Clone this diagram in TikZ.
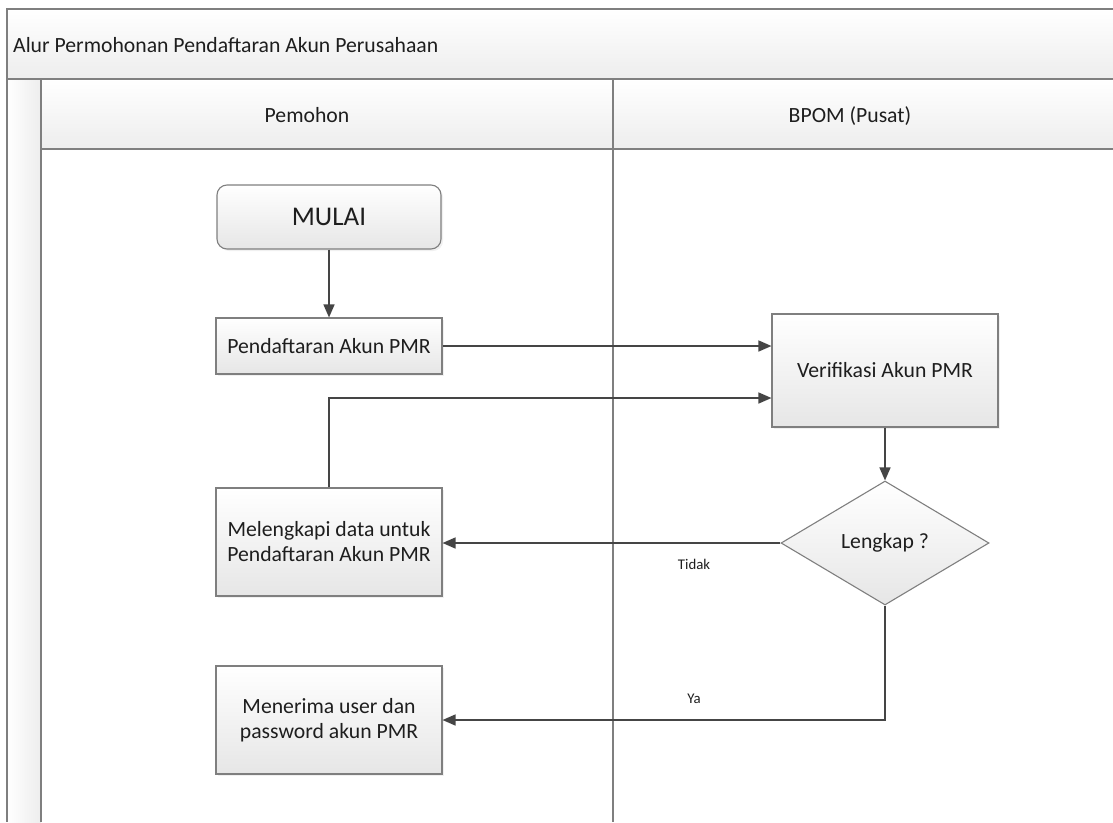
\documentclass[tikz,border=0pt]{standalone}
\usepackage{fontspec}
\setmainfont{Carlito}
\usetikzlibrary{arrows.meta,shapes.geometric,shadows}
\definecolor{frameline}{HTML}{7F7F7F}
\definecolor{connline}{HTML}{454545}
\definecolor{boxbot}{HTML}{E6E6E6}
\definecolor{bandbot}{HTML}{EDEDED}
\definecolor{txt}{HTML}{1E1E1E}
\begin{document}
\begin{tikzpicture}[x=1pt,y=-1pt,
  font=\fontsize{21.7}{25}\selectfont, text=txt,
  frame/.style={draw=frameline, line width=1.6pt},
  proc/.style={draw=frameline, line width=1.1pt, top color=white, bottom color=boxbot,
    minimum width=226pt, align=center, inner sep=0pt,
    drop shadow={shadow xshift=2pt, shadow yshift=-2pt, opacity=0.12}},
  startbox/.style={proc, rounded corners=10pt, minimum width=224pt, minimum height=64pt,
    font=\fontsize{27}{30}\selectfont},
  decide/.style={draw=frameline, line width=1.1pt, shape=diamond, top color=white,
    bottom color=boxbot, minimum width=208pt, minimum height=124pt, inner sep=0pt},
  arr/.style={draw=connline, line width=1.5pt, -{Triangle[length=13pt,width=11pt]}},
  lbl/.style={font=\fontsize{14.8}{17}\selectfont, inner sep=0pt}]
\useasboundingbox (0,0) rectangle (1113,822);

% pool title band and lane header band
\shade[top color=white, bottom color=bandbot] (7,9) rectangle (1113,79);
\shade[top color=white, bottom color=bandbot] (41,79) rectangle (1113,149);
\shade[left color=white, right color=bandbot] (7,79) rectangle (41,822);
\draw[frame] (1113,9) -- (7,9) -- (7,822);
\draw[frame] (7,79) -- (1113,79);
\draw[frame] (41,149) -- (1113,149);
\draw[frame] (41,79) -- (41,822);
\draw[draw=frameline, line width=1.2pt] (613,79) -- (613,822);

\node[anchor=base west, inner sep=0pt] (pool) at (13,52) {Alur Permohonan Pendaftaran Akun Perusahaan};
\node[anchor=base, inner sep=0pt] (lane1) at (307,122) {Pemohon};
\node[anchor=base, inner sep=0pt] (lane2) at (850,122) {BPOM (Pusat)};

% process steps
\node[startbox] (mulai) at (329,217) {MULAI};
\node[proc, minimum height=56pt] (pend) at (329,346) {Pendaftaran Akun PMR};
\node[proc, minimum height=113pt] (verif) at (885,370.5) {Verifikasi Akun PMR};
\node[decide] (lengkap) at (885,543) {Lengkap ?};
\node[proc, minimum height=108pt] (meleng) at (329,542) {Melengkapi data untuk\\Pendaftaran Akun PMR};
\node[proc, minimum height=108pt] (terima) at (329,720) {Menerima user dan\\password akun PMR};

% connectors
\draw[arr] (mulai) -- (pend);
\draw[arr] (pend.east) -- (pend.east -| verif.west);
\coordinate (back) at (329,398);
\draw[arr] (meleng.north) -- (back) -- (back -| verif.west);
\draw[arr] (verif) -- (lengkap);
\draw[arr] (lengkap.west) -- (lengkap.west -| meleng.east);
\draw[arr] (lengkap.south) |- (terima.east);

\node[lbl] (tidak) at (694,564) {Tidak};
\node[lbl] (ya) at (694,699) {Ya};
\end{tikzpicture}
\end{document}
